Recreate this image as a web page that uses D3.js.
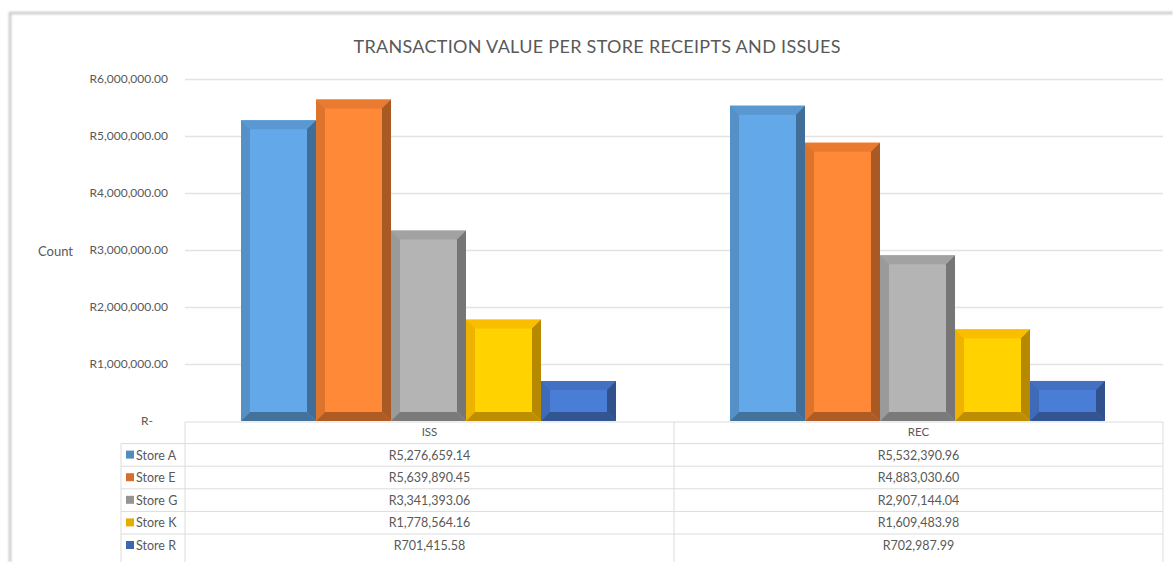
<!DOCTYPE html>
<html>
<head>
<meta charset="utf-8">
<script src="https://cdn.jsdelivr.net/npm/d3@7"></script>
<style>
  body { margin: 0; background: #fff; }
  svg text { font-family: Lato, "Open Sans", sans-serif; fill: #595959; }
</style>
</head>
<body>
<div id="chart"></div>
<script>
const [svgW, svgH] = [1173, 562];

// data
const categories = ["ISS", "REC"];
const stores = ["Store A", "Store E", "Store G", "Store K", "Store R"];
const storeA = [5276659.14, 5532390.96];
const storeE = [5639890.45, 4883030.60];
const storeG = [3341393.06, 2907144.04];
const storeK = [1778564.16, 1609483.98];
const storeR = [701415.58, 702987.99];
const seriesValues = [storeA, storeE, storeG, storeK, storeR];
const yTicks = [0, 1000000, 2000000, 3000000, 4000000, 5000000, 6000000];
const colors = ["#5B9BD5", "#ED7D31", "#A5A5A5", "#FFC000", "#4472C4"];

const plotL = 185, plotR = 1163, plotT = 79, plotB = 421;
const rowH = 22.6, bevel = 9;

const svg = d3.select("#chart").append("svg")
    .attr("width", svgW).attr("height", svgH);

// frame of the chart box
const defs = svg.append("defs");
const blur = defs.append("filter").attr("id", "soft");
blur.append("feGaussianBlur").attr("stdDeviation", 1.2);
svg.append("path")
    .attr("d", `M10,${svgH} L10,13 L${svgW},13`)
    .attr("fill", "none").attr("stroke", "#c8c8c8").attr("stroke-width", 2.5)
    .attr("filter", "url(#soft)");

// title
svg.append("text")
    .attr("x", 597).attr("y", 53)
    .attr("text-anchor", "middle")
    .style("font-size", "18px")
    .attr("textLength", 487)
    .text("TRANSACTION VALUE PER STORE RECEIPTS AND ISSUES");

const y = d3.scaleLinear().domain([0, 6000000]).range([plotB, plotT]);
const x0 = d3.scaleBand().domain(categories).range([plotL, plotR]);
const x1 = d3.scaleBand().domain(stores).range([56, 431]);

const fmt = d3.format(",.2f");
const money = v => v === 0 ? "R-" : "R" + fmt(v);

// gridlines + axis labels
const yAxis = d3.axisLeft(y).tickValues(yTicks).tickFormat(money)
    .tickSize(-(plotR - plotL)).tickPadding(17);
const ag = svg.append("g").attr("transform", `translate(${plotL},0)`).call(yAxis);
ag.select(".domain").remove();
ag.selectAll(".tick line").attr("stroke", "#e3e3e3").attr("stroke-width", 1.3);
ag.selectAll(".tick text").style("font-size", "12px").attr("fill", "#595959")
    .attr("text-anchor", "end")
    .attr("x", d => d === 0 ? -32 : -17);
ag.selectAll(".tick").filter(d => d === 0).select("line").remove();

svg.append("text").attr("x", 38).attr("y", 256)
    .style("font-size", "13px").text("Count");

// bevelled bars
const bars = svg.append("g");
categories.forEach((cat, ci) => {
    stores.forEach((s, si) => {
        const v = seriesValues[si][ci];
        const xa = x0(cat) + x1(s), xb = xa + x1.bandwidth();
        const ya = y(v), yb = y(0);
        const base = d3.color(colors[si]);
        const g = bars.append("g");
        g.append("rect").attr("x", xa).attr("y", ya).attr("width", xb - xa).attr("height", yb - ya)
            .attr("fill", base.brighter(0.25));
        const poly = (pts, c) => g.append("polygon").attr("points", pts.map(p => p.join(",")).join(" ")).attr("fill", c);
        poly([[xa, ya], [xb, ya], [xb - bevel, ya + bevel], [xa + bevel, ya + bevel]], base.darker(0.05));
        poly([[xa, ya], [xa + bevel, ya + bevel], [xa + bevel, yb - bevel], [xa, yb]], base.darker(0.2));
        poly([[xb, ya], [xb, yb], [xb - bevel, yb - bevel], [xb - bevel, ya + bevel]], base.darker(0.95));
        poly([[xa, yb], [xa + bevel, yb - bevel], [xb - bevel, yb - bevel], [xb, yb]], base.darker(0.85));
    });
});

// data table
const tbl = svg.append("g");
const lineC = "#dcdcdc";
const tableL = 121;
const rowTop = i => plotB + rowH * (i + 1);
tbl.append("line").attr("x1", plotL).attr("x2", plotR).attr("y1", plotB + 1).attr("y2", plotB + 1).attr("stroke", lineC);
stores.forEach((s, i) => {
    tbl.append("line").attr("x1", tableL).attr("x2", plotR)
        .attr("y1", rowTop(i)).attr("y2", rowTop(i)).attr("stroke", lineC);
});
tbl.append("line").attr("x1", tableL).attr("x2", tableL).attr("y1", rowTop(0)).attr("y2", svgH).attr("stroke", lineC);
[plotL, x0("REC"), plotR].forEach(xv => {
    tbl.append("line").attr("x1", xv).attr("x2", xv).attr("y1", plotB + 1).attr("y2", svgH).attr("stroke", lineC);
});
categories.forEach(cat => {
    tbl.append("text").attr("x", x0(cat) + x0.bandwidth() / 2).attr("y", plotB + 15)
        .attr("text-anchor", "middle").style("font-size", "11.5px").text(cat);
});
stores.forEach((s, si) => {
    const yy = rowTop(si) + 16;
    tbl.append("rect").attr("x", 126).attr("y", yy - 9).attr("width", 8).attr("height", 8)
        .attr("fill", d3.color(colors[si]).darker(0.3));
    tbl.append("text").attr("x", 136).attr("y", yy).style("font-size", "12.5px").text(s);
    categories.forEach((cat, ci) => {
        tbl.append("text").attr("x", x0(cat) + x0.bandwidth() / 2).attr("y", yy)
            .attr("text-anchor", "middle").style("font-size", "12.5px")
            .text(money(seriesValues[si][ci]));
    });
});
</script>
</body>
</html>
